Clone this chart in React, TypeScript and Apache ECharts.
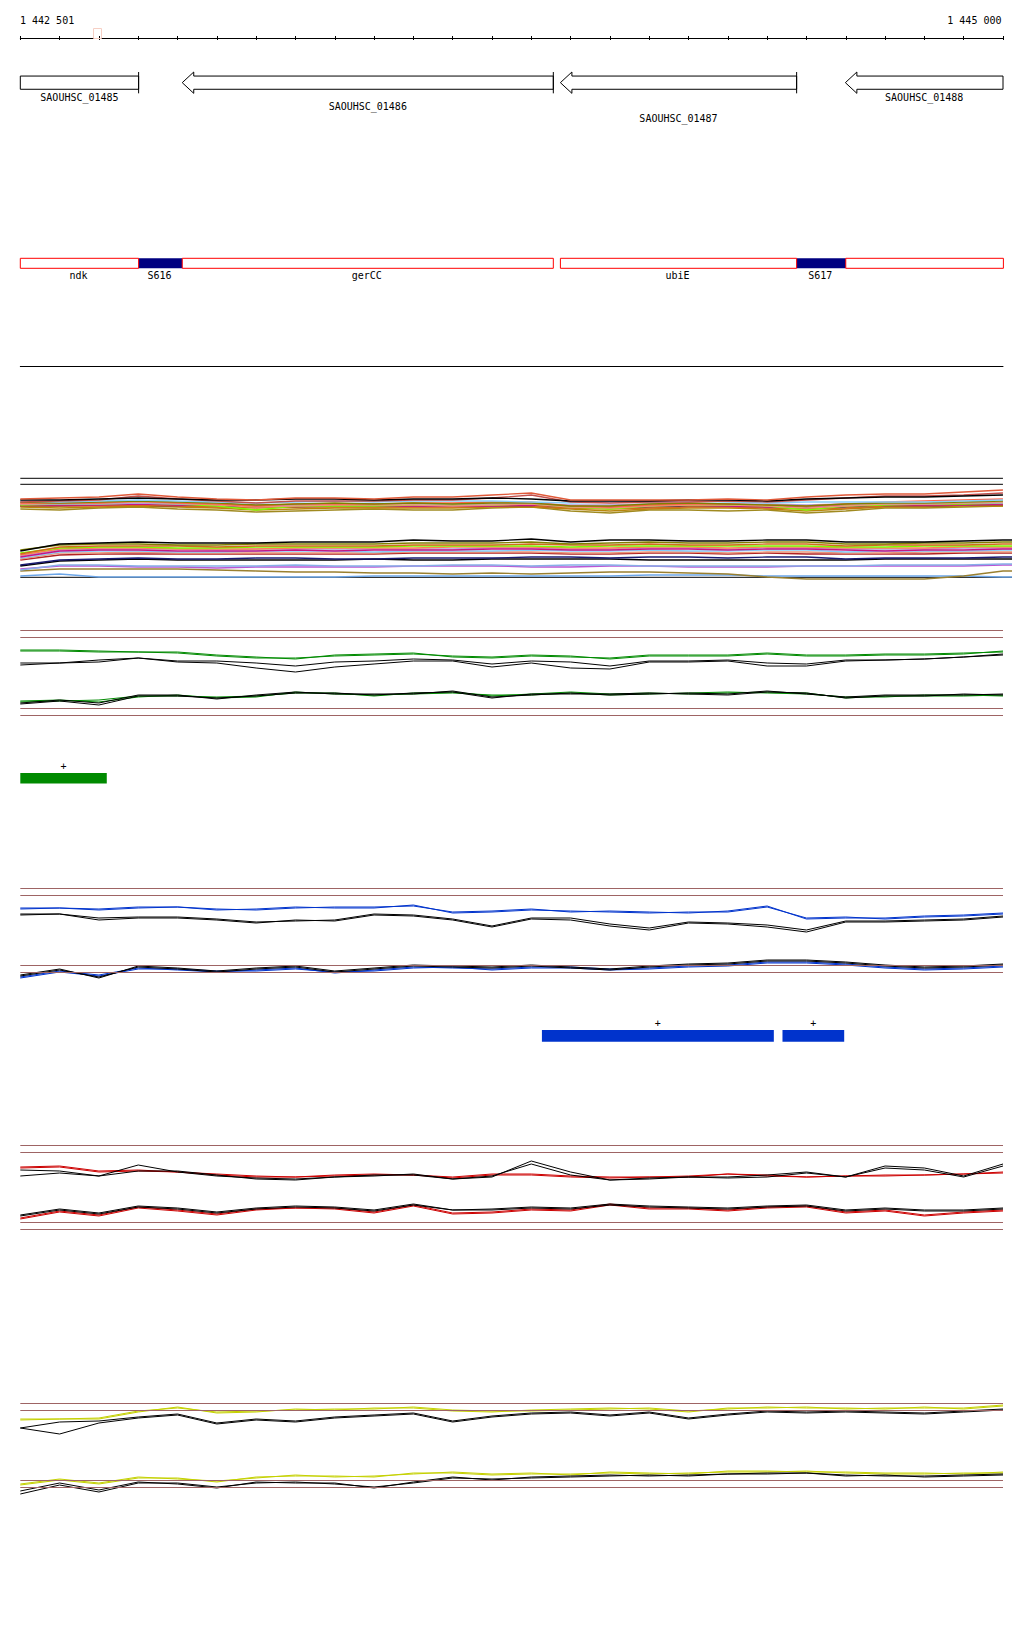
import React, { useEffect, useRef } from "react";
import * as echarts from "echarts";

// ---------- axis range ----------
const X_MIN = 1442500;
const X_MAX = 1445000;
const X_MAX_EXT = 1445023;
const POS = [
  1442500, 1442600, 1442700, 1442800, 1442900, 1443000, 1443100, 1443200, 1443300, 1443400,
  1443500, 1443600, 1443700, 1443800, 1443900, 1444000, 1444100, 1444200, 1444300, 1444400,
  1444500, 1444600, 1444700, 1444800, 1444900, 1445000,
];
const POS_EXT = [...POS, X_MAX_EXT];
const RULER_LABELS = ["1 442 501", "1 445 000"];

// ---------- genes ----------
const GENE_NAMES = ["SAOUHSC_01485", "SAOUHSC_01486", "SAOUHSC_01487", "SAOUHSC_01488"];
const GENE_STARTS = [1442420, 1442912, 1443874, 1444599];
const GENE_ENDS = [1442801, 1443856, 1444475, 1445080];
const GENE_LABEL_ROWS = [0, 1, 2, 0];

// ---------- features ----------
const FEAT_NAMES = ["ndk", "S616", "gerCC", "ubiE", "S617", ""];
const FEAT_STARTS = [1442500, 1442801, 1442912, 1443874, 1444475, 1444600];
const FEAT_ENDS = [1442801, 1442912, 1443856, 1444475, 1444600, 1445001];
const FEAT_KINDS = ["cds", "srna", "cds", "cds", "srna", "cds"];

// ---------- multi-condition track (upper band) ----------
const U_TOP = [91, 92, 93, 96, 93, 91, 90, 92, 92, 91, 93, 93, 95, 97, 90, 90, 90, 90, 91, 90, 93, 95, 96, 96, 98, 100];
const U1 = [90, 90, 91, 92, 91, 90, 90, 91, 91, 90, 91, 91, 92, 91, 89, 89, 89, 90, 90, 89, 91, 92, 93, 93, 94, 95];
const U2 = [89, 88, 89, 90, 89, 88, 87, 88, 89, 88, 89, 89, 89, 88, 87, 88, 88, 89, 88, 87, 88, 88, 88, 88, 89, 90];
const U3 = [88, 87, 88, 89, 88, 87, 85, 86, 87, 86, 87, 86, 87, 87, 84, 84, 86, 87, 86, 85, 84, 86, 87, 87, 88, 89];
const U4 = [87, 87, 87, 89, 87, 86, 84, 86, 86, 86, 87, 87, 88, 88, 84, 83, 85, 86, 86, 85, 84, 86, 88, 89, 90, 91];
const U5 = [86, 86, 86, 87, 86, 86, 85, 85, 86, 86, 86, 86, 86, 86, 85, 85, 86, 86, 86, 86, 85, 86, 86, 86, 87, 87];
const U6 = [85, 86, 86, 87, 86, 84, 80, 84, 84, 84, 85, 85, 85, 86, 83, 81, 84, 85, 85, 84, 80, 84, 85, 86, 86, 87];
const U7 = [85, 85, 85, 86, 85, 85, 84, 84, 85, 84, 84, 84, 84, 85, 84, 83, 84, 85, 84, 83, 84, 84, 85, 85, 85, 86];
const U8 = [84, 84, 84, 85, 84, 83, 82, 83, 83, 83, 83, 83, 84, 84, 82, 81, 82, 83, 83, 82, 81, 82, 84, 84, 85, 85];
const U9 = [83, 82, 83, 84, 83, 82, 80, 81, 82, 82, 82, 82, 83, 83, 81, 79, 81, 82, 82, 81, 79, 81, 83, 83, 84, 84];
const U10 = [86, 87, 87, 88, 87, 85, 83, 84, 85, 85, 85, 84, 85, 86, 83, 82, 84, 85, 85, 84, 82, 84, 86, 86, 87, 88];
const U11 = [84, 84, 85, 85, 84, 84, 83, 83, 84, 84, 84, 84, 84, 84, 83, 82, 83, 84, 84, 83, 82, 83, 84, 84, 85, 85];
const U12 = [88, 89, 90, 94, 91, 89, 87, 89, 89, 89, 90, 90, 92, 95, 88, 87, 88, 88, 89, 88, 90, 92, 94, 94, 95, 97];
const U_BOT = [81, 80, 82, 83, 81, 80, 78, 79, 80, 81, 80, 80, 82, 83, 79, 77, 80, 80, 79, 80, 77, 79, 82, 82, 83, 84];
const UPPER_BAND = [U_BOT, U9, U11, U8, U7, U6, U5, U10, U4, U3, U2, U12, U1, U_TOP];
const UPPER_COLORS = ["#a08a20", "#b8860b", "#191970", "#d2691e", "#c71585", "#7cfc00", "#b39ddb", "#e9967a", "#ff6347", "#808000", "#87cefa", "#c0504d", "#000000", "#e05a3a"];

// ---------- multi-condition track (lower band) ----------
const L0 = [39, 46, 47, 48, 47, 47, 47, 48, 48, 48, 50, 49, 49, 51, 48, 50, 50, 49, 49, 50, 50, 48, 48, 48, 49, 50, 50];
const L1 = [40, 45, 46, 46, 45, 45, 46, 46, 46, 46, 47, 47, 47, 48, 46, 47, 48, 47, 47, 48, 48, 46, 46, 47, 47, 48, 48];
const L2 = [36, 43, 44, 44, 44, 43, 44, 44, 44, 44, 45, 45, 45, 46, 45, 45, 46, 45, 45, 46, 46, 44, 45, 45, 45, 46, 46];
const L3 = [37, 42, 43, 43, 42, 42, 43, 43, 43, 43, 44, 44, 44, 44, 43, 44, 44, 44, 44, 44, 44, 43, 43, 44, 44, 44, 44];
const L4 = [35, 41, 42, 42, 41, 41, 41, 42, 42, 42, 42, 43, 43, 43, 42, 42, 43, 43, 42, 43, 43, 42, 42, 42, 43, 43, 43];
const L5 = [33, 39, 40, 40, 39, 39, 39, 40, 39, 40, 40, 40, 41, 41, 40, 40, 41, 41, 40, 41, 41, 40, 39, 40, 40, 41, 41];
const L6 = [34, 40, 41, 41, 41, 40, 41, 41, 41, 41, 41, 41, 42, 42, 41, 41, 42, 42, 41, 42, 42, 41, 41, 41, 42, 42, 42];
const L7 = [32, 38, 39, 39, 38, 38, 39, 39, 39, 38, 39, 39, 39, 40, 39, 39, 40, 39, 39, 40, 40, 38, 39, 39, 39, 40, 40];
const L8 = [31, 37, 37, 38, 37, 37, 37, 37, 37, 37, 38, 38, 38, 38, 37, 37, 38, 38, 37, 38, 38, 37, 37, 38, 38, 38, 38];
const L9 = [30, 35, 36, 36, 36, 36, 36, 36, 36, 36, 37, 37, 37, 37, 36, 36, 37, 37, 36, 37, 36, 36, 36, 36, 37, 37, 37];
const L10 = [25, 30, 31, 32, 31, 31, 32, 32, 31, 31, 32, 32, 32, 33, 33, 32, 33, 33, 32, 33, 33, 31, 32, 32, 32, 33, 33];
const L11 = [24, 29, 30, 31, 30, 30, 30, 30, 30, 31, 30, 30, 31, 31, 31, 31, 30, 30, 30, 30, 30, 30, 31, 31, 31, 31, 31];
const L12 = [20, 25, 25, 24, 24, 24, 24, 25, 24, 24, 24, 25, 25, 24, 25, 25, 24, 24, 24, 24, 24, 24, 25, 25, 25, 26, 26];
const L13 = [21, 24, 24, 23, 23, 22, 23, 23, 23, 23, 24, 24, 24, 23, 23, 24, 24, 23, 23, 23, 24, 24, 24, 24, 24, 25, 25];
const L14 = [19, 21, 21, 21, 21, 20, 19, 18, 18, 17, 17, 16, 17, 16, 17, 18, 18, 17, 16, 13, 11, 11, 11, 11, 14, 19, 19];
const L15 = [14, 16, 13, 13, 13, 13, 13, 13, 13, 14, 14, 14, 14, 14, 14, 14, 15, 15, 15, 14, 14, 14, 14, 14, 14, 13, 13];
const LOWER_BAND = [L15, L14, L13, L12, L11, L10, L9, L8, L7, L6, L5, L4, L3, L2, L1, L0];
const LOWER_COLORS = ["#6ca6e8", "#9a8030", "#ba55d3", "#87aee8", "#000000", "#191970", "#b22222", "#e9967a", "#87cefa", "#b39ddb", "#c71585", "#ff7f50", "#7cfc00", "#d2691e", "#808000", "#000000"];
const MULTI_REF_LINES = [111.7, 105.7];
const MULTI_BASE_LINE = 12.7;

// ---------- green panel ----------
const GU1 = [69, 69, 68, 68, 67, 64, 62, 62, 64, 65, 66, 64, 63, 65, 64, 61, 64, 64, 64, 66, 64, 64, 65, 65, 66, 69];
const GU2 = [70, 70, 69, 68, 68, 65, 63, 61, 65, 66, 67, 63, 62, 64, 63, 62, 65, 65, 65, 67, 65, 65, 66, 66, 67, 68];
const GK1 = [57, 57, 60, 62, 59, 59, 57, 54, 58, 59, 61, 60, 56, 59, 58, 54, 59, 59, 60, 57, 56, 60, 60, 61, 63, 66];
const GK2 = [55, 57, 58, 62, 58, 57, 52, 48, 53, 56, 59, 59, 53, 57, 52, 51, 58, 58, 59, 54, 54, 59, 60, 61, 63, 65];
const GL1 = [18, 19, 20, 24, 24, 23, 24, 27, 27, 24, 27, 28, 24, 26, 28, 26, 27, 26, 27, 28, 27, 22, 24, 24, 24, 25];
const GL2 = [17, 20, 17, 25, 25, 21, 25, 28, 26, 26, 26, 29, 23, 25, 27, 25, 26, 27, 26, 29, 26, 23, 25, 25, 25, 26];
const GL3 = [19, 20, 18, 23, 25, 22, 23, 28, 26, 25, 26, 27, 25, 25, 27, 25, 26, 27, 28, 27, 26, 23, 23, 25, 25, 24];
const GL4 = [16, 19, 15, 24, 24, 22, 24, 27, 27, 25, 27, 28, 22, 26, 26, 26, 27, 26, 25, 28, 27, 22, 24, 24, 26, 25];
const GREEN_THRESHOLDS = [89.7, 82.7, 11.7, 4.7];
const GREEN_BAR_STARTS = [1442500];
const GREEN_BAR_ENDS = [1442720];

// ---------- blue panel ----------
const BU1 = [81, 82, 81, 83, 83, 81, 80, 82, 83, 83, 84, 78, 79, 81, 78, 79, 78, 77, 79, 84, 71, 72, 72, 74, 75, 77];
const BU2 = [82, 82, 80, 82, 83, 80, 81, 83, 82, 82, 85, 77, 78, 80, 79, 78, 77, 78, 78, 83, 72, 73, 71, 73, 74, 76];
const BK1 = [75, 76, 72, 73, 73, 71, 68, 69, 70, 76, 75, 71, 64, 72, 72, 66, 62, 68, 67, 65, 60, 69, 69, 70, 71, 74];
const BK2 = [76, 76, 70, 72, 72, 70, 67, 70, 69, 75, 74, 70, 63, 71, 70, 64, 60, 67, 66, 63, 58, 68, 68, 69, 70, 73];
const BL1 = [13, 19, 15, 22, 20, 18, 20, 22, 17, 20, 23, 22, 21, 23, 23, 21, 22, 24, 25, 28, 28, 26, 23, 21, 22, 24];
const BL2 = [14, 20, 13, 23, 21, 18, 21, 23, 18, 21, 24, 23, 22, 24, 22, 20, 23, 25, 26, 29, 29, 27, 24, 22, 23, 25];
const BL3 = [12, 18, 14, 21, 21, 19, 19, 21, 18, 19, 22, 23, 20, 22, 22, 20, 21, 23, 24, 27, 27, 25, 22, 20, 21, 23];
const BL4 = [15, 21, 12, 24, 22, 19, 22, 24, 19, 22, 25, 24, 23, 25, 23, 21, 24, 26, 27, 30, 30, 28, 25, 23, 24, 26];
const BLUE_THRESHOLDS = [102, 94.7, 24.7, 17.7];
const BLUE_BAR_STARTS = [1443827, 1444439];
const BLUE_BAR_ENDS = [1444417, 1444596];

// ---------- red panel ----------
const RU1 = [72, 73, 68, 69, 68, 65, 63, 63, 64, 65, 65, 62, 65, 65, 63, 62, 63, 63, 66, 65, 63, 64, 64, 65, 66, 67];
const RU2 = [73, 74, 69, 70, 68, 66, 64, 63, 65, 66, 65, 63, 66, 66, 64, 63, 63, 64, 66, 64, 63, 64, 65, 65, 66, 68];
const RK1 = [70, 69, 64, 75, 68, 64, 62, 61, 63, 65, 65, 61, 63, 79, 68, 60, 61, 63, 63, 65, 68, 63, 74, 72, 64, 76];
const RK2 = [64, 67, 64, 69, 69, 65, 61, 60, 63, 64, 66, 61, 64, 76, 65, 60, 62, 63, 62, 63, 67, 63, 72, 70, 63, 74];
const RL1 = [22, 29, 25, 33, 30, 26, 31, 32, 32, 28, 35, 27, 28, 31, 30, 36, 32, 32, 30, 33, 34, 28, 30, 25, 28, 30];
const RL2 = [24, 30, 26, 33, 31, 27, 31, 33, 32, 29, 35, 30, 30, 32, 31, 35, 33, 32, 31, 33, 34, 29, 31, 29, 29, 31];
const RL3 = [21, 28, 24, 32, 29, 25, 30, 32, 31, 27, 34, 26, 27, 30, 29, 35, 31, 31, 29, 32, 33, 27, 29, 24, 27, 29];
const RL4 = [25, 31, 27, 34, 32, 28, 32, 34, 33, 30, 36, 30, 31, 33, 32, 36, 34, 33, 32, 34, 35, 30, 32, 30, 30, 32];
const RED_THRESHOLDS = [94.7, 87.7, 18, 10.7];

// ---------- yellow panel ----------
const YU1 = [80, 81, 81, 88, 93, 87, 88, 91, 90, 92, 92, 89, 88, 90, 91, 92, 91, 88, 92, 92, 93, 91, 92, 92, 92, 95];
const YU2 = [81, 81, 82, 89, 92, 88, 89, 90, 91, 91, 93, 90, 89, 89, 90, 91, 92, 89, 91, 93, 92, 92, 91, 93, 91, 94];
const YK1 = [72, 78, 79, 83, 86, 77, 81, 79, 83, 85, 87, 79, 84, 87, 88, 85, 88, 82, 86, 89, 88, 89, 88, 87, 89, 91];
const YK2 = [72, 66, 77, 82, 85, 76, 80, 78, 82, 84, 86, 78, 83, 86, 87, 84, 87, 81, 85, 88, 87, 88, 87, 86, 88, 90];
const YL1 = [15, 20, 16, 22, 22, 18, 23, 24, 24, 23, 27, 27, 25, 26, 26, 27, 26, 27, 28, 28, 29, 27, 26, 26, 27, 27];
const YL2 = [16, 21, 17, 23, 21, 19, 22, 25, 23, 24, 26, 28, 26, 27, 25, 28, 27, 26, 29, 29, 28, 28, 27, 27, 26, 28];
const YL3 = [9, 17, 10, 18, 16, 12, 18, 17, 17, 12, 18, 23, 20, 23, 24, 25, 24, 25, 26, 27, 27, 25, 24, 24, 25, 26];
const YL4 = [6, 15, 8, 17, 17, 13, 17, 18, 16, 13, 17, 22, 21, 22, 23, 24, 25, 24, 26, 26, 27, 24, 25, 23, 24, 25];
const YELLOW_THRESHOLDS = [97, 89.7, 19.7, 12.7];

// ---------- styling ----------
const FONT = '"DejaVu Sans Mono", "Liberation Mono", monospace';
const BROWN = "#9e6464";
const GREEN = "#008a00";
const BLUE = "#0033cc";
const RED = "#cc0000";
const YELLOW = "#c4d000";
const BLACK = "#000000";
const LEFT = 20.3;
const RIGHT = 21;
const LABEL_ROW_OFFSETS = [3.8, 13.2, 25.2];

const GRIDS = [
  { top: 20, height: 18 }, // 0 ruler
  { top: 72, height: 21.33 }, // 1 genes
  { top: 258.3, height: 10 }, // 2 features
  { top: 300, height: 66 }, // 3 separator
  { top: 470, height: 120, right: 12 }, // 4 multi
  { top: 620, height: 100 }, // 5 green
  { top: 773, height: 10.5 }, // 6 green bar
  { top: 880, height: 110 }, // 7 blue
  { top: 1030, height: 11.7 }, // 8 blue bars
  { top: 1140, height: 100 }, // 9 red
  { top: 1400, height: 100 }, // 10 yellow
];
const Y_MAX = [1, 1, 1, 1, 120, 100, 1, 110, 1, 100, 100];

function lineSeries(grid: number, values: number[], color: string, xs: number[] = POS, width = 1, extra: any = {}) {
  return {
    type: "line",
    xAxisIndex: grid,
    yAxisIndex: grid,
    data: values.map((v, i) => [xs[i], v]),
    showSymbol: false,
    symbol: "none",
    silent: true,
    lineStyle: { color, width },
    emphasis: { disabled: true },
    z: 3,
    ...extra,
  };
}

function thresholdMark(values: number[]) {
  return {
    silent: true,
    symbol: ["none", "none"],
    label: { show: false },
    emphasis: { disabled: true },
    lineStyle: { color: BROWN, width: 1, type: "solid" },
    data: values.map((v) => ({ yAxis: v })),
  };
}

function textEl(x: number, y: number, text: string, align = "center") {
  return {
    type: "text",
    x,
    y,
    style: {
      text,
      fill: BLACK,
      fontSize: 10,
      fontFamily: FONT,
      align,
      verticalAlign: "middle",
      textAlign: align,
      textVerticalAlign: "middle",
    },
  };
}

function buildOption() {
  const series: any[] = [];

  // genes
  series.push({
    type: "custom",
    xAxisIndex: 1,
    yAxisIndex: 1,
    silent: true,
    data: GENE_NAMES.map((n, i) => [GENE_STARTS[i], GENE_ENDS[i], i]),
    renderItem: (params: any, api: any) => {
      const s = api.value(0);
      const e = api.value(1);
      const idx = api.value(2);
      const cs = Math.max(s, X_MIN);
      const ce = Math.min(e, X_MAX);
      const pT = api.coord([cs, 1]);
      const pB = api.coord([cs, 0]);
      const xs = pT[0];
      const xe = api.coord([ce, 0])[0];
      const yT = pT[1];
      const yB = pB[1];
      const h = yB - yT;
      const yc = (yT + yB) / 2;
      const sT = yT + h * 0.19;
      const sB = yB - h * 0.19;
      const head = 11.5;
      const children: any[] = [];
      const style = { fill: "#ffffff", stroke: BLACK, lineWidth: 1 };
      if (s >= X_MIN) {
        children.push({
          type: "polygon",
          shape: {
            points: [
              [xs, yc],
              [xs + head, yT],
              [xs + head, sT],
              [xe, sT],
              [xe, sB],
              [xs + head, sB],
              [xs + head, yB],
            ],
          },
          style,
        });
      } else {
        children.push({ type: "rect", shape: { x: xs, y: sT, width: xe - xs, height: sB - sT }, style });
      }
      if (e <= X_MAX) {
        children.push({ type: "line", shape: { x1: xe, y1: yT, x2: xe, y2: yB }, style: { stroke: BLACK, lineWidth: 1 } });
      }
      children.push(textEl((xs + xe) / 2, yB + LABEL_ROW_OFFSETS[GENE_LABEL_ROWS[idx]], GENE_NAMES[idx]));
      return { type: "group", children };
    },
  });

  // features
  series.push({
    type: "custom",
    xAxisIndex: 2,
    yAxisIndex: 2,
    silent: true,
    data: FEAT_NAMES.map((n, i) => [FEAT_STARTS[i], FEAT_ENDS[i], i]).sort(
      (a, b) => (FEAT_KINDS[b[2]] === "srna" ? 1 : 0) - (FEAT_KINDS[a[2]] === "srna" ? 1 : 0)
    ),
    renderItem: (params: any, api: any) => {
      const idx = api.value(2);
      const p1 = api.coord([api.value(0), 1]);
      const p2 = api.coord([api.value(1), 0]);
      const srna = FEAT_KINDS[idx] === "srna";
      const children: any[] = [
        {
          type: "rect",
          shape: { x: p1[0], y: p1[1], width: p2[0] - p1[0], height: p2[1] - p1[1] },
          style: srna ? { fill: "#000080" } : { fill: "none", stroke: "#ff0000", lineWidth: 1 },
        },
      ];
      if (FEAT_NAMES[idx]) children.push(textEl((p1[0] + p2[0]) / 2 - 1, p2[1] + 6.8, FEAT_NAMES[idx]));
      return { type: "group", children };
    },
  });

  // multi-condition track
  series.push(
    lineSeries(4, [MULTI_REF_LINES[0], MULTI_REF_LINES[0]], BLACK, [X_MIN, X_MAX]),
    lineSeries(4, [MULTI_REF_LINES[1], MULTI_REF_LINES[1]], BLACK, [X_MIN, X_MAX]),
    lineSeries(4, [MULTI_BASE_LINE, MULTI_BASE_LINE], BLACK, [X_MIN, X_MAX_EXT])
  );
  UPPER_BAND.forEach((vals, i) => series.push(lineSeries(4, vals, UPPER_COLORS[i], POS, 1.3)));
  LOWER_BAND.forEach((vals, i) => series.push(lineSeries(4, vals, LOWER_COLORS[i], POS_EXT, 1.3)));

  // green panel
  series.push(lineSeries(5, GU1, GREEN, POS, 1, { markLine: thresholdMark(GREEN_THRESHOLDS) }));
  series.push(lineSeries(5, GU2, GREEN), lineSeries(5, GK1, BLACK), lineSeries(5, GK2, BLACK));
  series.push(lineSeries(5, GL1, GREEN), lineSeries(5, GL3, GREEN), lineSeries(5, GL2, BLACK), lineSeries(5, GL4, BLACK));

  // blue panel
  series.push(lineSeries(7, BU1, BLUE, POS, 1, { markLine: thresholdMark(BLUE_THRESHOLDS) }));
  series.push(lineSeries(7, BU2, BLUE), lineSeries(7, BK1, BLACK), lineSeries(7, BK2, BLACK));
  series.push(lineSeries(7, BL1, BLUE), lineSeries(7, BL3, BLUE), lineSeries(7, BL2, BLACK), lineSeries(7, BL4, BLACK));

  // red panel
  series.push(lineSeries(9, RU1, RED, POS, 1, { markLine: thresholdMark(RED_THRESHOLDS) }));
  series.push(lineSeries(9, RU2, RED), lineSeries(9, RK1, BLACK), lineSeries(9, RK2, BLACK));
  series.push(lineSeries(9, RL1, RED), lineSeries(9, RL3, RED), lineSeries(9, RL2, BLACK), lineSeries(9, RL4, BLACK));

  // yellow panel
  series.push(lineSeries(10, YU1, YELLOW, POS, 1, { markLine: thresholdMark(YELLOW_THRESHOLDS) }));
  series.push(lineSeries(10, YU2, YELLOW), lineSeries(10, YK1, BLACK), lineSeries(10, YK2, BLACK));
  series.push(lineSeries(10, YL1, YELLOW), lineSeries(10, YL2, YELLOW), lineSeries(10, YL3, BLACK), lineSeries(10, YL4, BLACK));

  // region bars
  const barSeries = (grid: number, starts: number[], ends: number[], color: string) => ({
    type: "custom",
    xAxisIndex: grid,
    yAxisIndex: grid,
    silent: true,
    data: starts.map((s, i) => [s, ends[i]]),
    renderItem: (params: any, api: any) => {
      const p1 = api.coord([api.value(0), 1]);
      const p2 = api.coord([api.value(1), 0]);
      return {
        type: "group",
        children: [
          { type: "rect", shape: { x: p1[0], y: p1[1], width: p2[0] - p1[0], height: p2[1] - p1[1] }, style: { fill: color } },
          textEl((p1[0] + p2[0]) / 2, p1[1] - 7, "+"),
        ],
      };
    },
  });
  series.push(barSeries(6, GREEN_BAR_STARTS, GREEN_BAR_ENDS, GREEN));
  series.push(barSeries(8, BLUE_BAR_STARTS, BLUE_BAR_ENDS, BLUE));

  const xAxis: any[] = GRIDS.map((g, i) => ({
    gridIndex: i,
    type: "value",
    min: X_MIN,
    max: i === 4 ? X_MAX_EXT : X_MAX,
    interval: 100,
    show: i === 0 || i === 3,
    position: "bottom",
    axisLine: { show: true, onZero: false, lineStyle: { color: BLACK, width: 1 } },
    axisTick: { show: i === 0, inside: false, length: 2, lineStyle: { color: BLACK, width: 1 } },
    axisLabel: { show: false },
    splitLine: { show: false },
  }));
  xAxis.push({
    gridIndex: 0,
    type: "value",
    min: X_MIN,
    max: X_MAX,
    interval: 100,
    position: "bottom",
    axisLine: { show: false, onZero: false },
    axisTick: { show: true, inside: true, length: 2, lineStyle: { color: BLACK, width: 1 } },
    axisLabel: { show: false },
    splitLine: { show: false },
  });

  const yAxis = GRIDS.map((g, i) => ({
    gridIndex: i,
    type: "value",
    min: 0,
    max: Y_MAX[i],
    show: false,
  }));

  return {
    animation: false,
    backgroundColor: "#ffffff",
    grid: GRIDS.map((g: any) => ({ left: LEFT, right: g.right ?? RIGHT, top: g.top, height: g.height, containLabel: false })),
    xAxis,
    yAxis,
    series,
    graphic: [
      textEl(20, 20.5, RULER_LABELS[0], "left"),
      textEl(1001.5, 20.5, RULER_LABELS[1], "right"),
      { type: "rect", shape: { x: 93.5, y: 28.5, width: 8, height: 10 }, style: { fill: "none", stroke: "#f6cfc4", lineWidth: 1 }, z: 10 },
    ],
  };
}

export default function App() {
  const ref = useRef<HTMLDivElement>(null);
  useEffect(() => {
    if (!ref.current) return;
    const chart = echarts.init(ref.current, null, { renderer: "svg", width: 1024, height: 1640 });
    chart.setOption(buildOption() as any);
    return () => chart.dispose();
  }, []);
  return (
    <div
      ref={ref}
      style={{ position: "absolute", left: 0, top: 0, width: 1024, height: 1640, background: "#ffffff" }}
    />
  );
}
